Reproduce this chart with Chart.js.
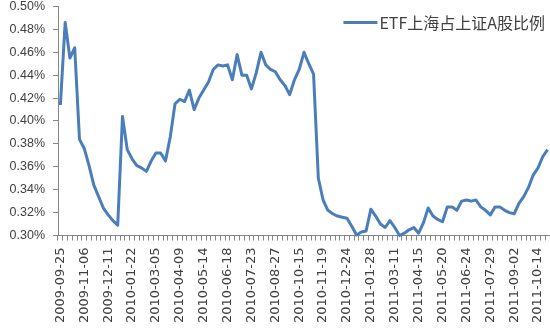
<!DOCTYPE html>
<html>
<head>
<meta charset="utf-8">
<script src="https://cdn.jsdelivr.net/npm/chart.js@4.4.1/dist/chart.umd.min.js"></script>
<style>
  body { margin: 0; background: #fff; }
  #wrap { width: 550px; height: 328px; }
</style>
</head>
<body>
<div id="wrap"><canvas id="etfChart"></canvas></div>
<script>
// weekly dates (holiday weeks missing)
const dates = [
  '2009-09-25', '2009-10-09', '2009-10-16', '2009-10-23', '2009-10-30',
  '2009-11-06', '2009-11-13', '2009-11-20', '2009-11-27', '2009-12-04',
  '2009-12-11', '2009-12-18', '2009-12-25', '2010-01-08', '2010-01-15',
  '2010-01-22', '2010-01-29', '2010-02-05', '2010-02-12', '2010-02-26',
  '2010-03-05', '2010-03-12', '2010-03-19', '2010-03-26', '2010-04-02',
  '2010-04-09', '2010-04-16', '2010-04-23', '2010-04-30', '2010-05-07',
  '2010-05-14', '2010-05-21', '2010-05-28', '2010-06-04', '2010-06-11',
  '2010-06-18', '2010-06-25', '2010-07-02', '2010-07-09', '2010-07-16',
  '2010-07-23', '2010-07-30', '2010-08-06', '2010-08-13', '2010-08-20',
  '2010-08-27', '2010-09-03', '2010-09-10', '2010-09-17', '2010-10-08',
  '2010-10-15', '2010-10-22', '2010-10-29', '2010-11-05', '2010-11-12',
  '2010-11-19', '2010-11-26', '2010-12-03', '2010-12-10', '2010-12-17',
  '2010-12-24', '2010-12-31', '2011-01-07', '2011-01-14', '2011-01-21',
  '2011-01-28', '2011-02-11', '2011-02-18', '2011-02-25', '2011-03-04',
  '2011-03-11', '2011-03-18', '2011-03-25', '2011-04-01', '2011-04-08',
  '2011-04-15', '2011-04-22', '2011-04-29', '2011-05-06', '2011-05-13',
  '2011-05-20', '2011-05-27', '2011-06-03', '2011-06-10', '2011-06-17',
  '2011-06-24', '2011-07-01', '2011-07-08', '2011-07-15', '2011-07-22',
  '2011-07-29', '2011-08-05', '2011-08-12', '2011-08-19', '2011-08-26',
  '2011-09-02', '2011-09-09', '2011-09-16', '2011-09-23', '2011-09-30',
  '2011-10-14', '2011-10-21', '2011-10-28'
];

// percent values
const etfShare = [
  0.414, 0.486, 0.455, 0.464, 0.384, 0.376, 0.361, 0.344, 0.334, 0.324,
  0.318, 0.313, 0.309, 0.404, 0.375, 0.367, 0.361, 0.359, 0.356, 0.365,
  0.372, 0.372, 0.365, 0.386, 0.415, 0.419, 0.417, 0.427, 0.410, 0.420,
  0.427, 0.434, 0.445, 0.449, 0.448, 0.449, 0.436, 0.458, 0.440, 0.440,
  0.428, 0.442, 0.460, 0.449, 0.445, 0.443, 0.436, 0.431, 0.423, 0.436,
  0.445, 0.460, 0.450, 0.441, 0.350, 0.331, 0.322, 0.319, 0.317, 0.316,
  0.315, 0.308, 0.3005, 0.303, 0.304, 0.323, 0.317, 0.310, 0.307, 0.313,
  0.307, 0.300, 0.302, 0.305, 0.307, 0.302, 0.311, 0.324, 0.317, 0.314,
  0.312, 0.325, 0.325, 0.322, 0.330, 0.331, 0.330, 0.331, 0.325, 0.322,
  0.318, 0.325, 0.325, 0.322, 0.320, 0.319, 0.328, 0.334, 0.342, 0.353,
  0.359, 0.369, 0.375
];

const seriesName = 'ETF上海占上证A股比例';
const yMin = 0.30, yMax = 0.50, yStep = 0.02;
const labelEvery = 5;

const axisGray = '#868686';
const textColor = '#404040';

// legend drawn inside the plot, top right
const insideLegend = {
  id: 'insideLegend',
  afterDraw(chart) {
    const ds = chart.data.datasets[0];
    const ctx = chart.ctx;
    const area = chart.chartArea;
    ctx.save();
    ctx.font = '16px "Noto Sans CJK SC"';
    ctx.fillStyle = textColor;
    ctx.textBaseline = 'middle';
    const w = ctx.measureText(ds.label).width;
    const tx = area.right - 5 - w;
    const ty = 23;
    ctx.fillText(ds.label, tx, ty);
    ctx.strokeStyle = ds.borderColor;
    ctx.lineWidth = 3;
    ctx.beginPath();
    ctx.moveTo(tx - 36, ty - 0.5);
    ctx.lineTo(tx - 2, ty - 0.5);
    ctx.stroke();
    ctx.restore();
  }
};

const ctx = document.getElementById('etfChart').getContext('2d');
const etfChart = new Chart(ctx, {
  type: 'line',
  data: {
    labels: dates,
    datasets: [{
      label: seriesName,
      data: etfShare,
      borderColor: '#4a7ebb',
      borderWidth: 3,
      pointRadius: 0,
      tension: 0,
      borderJoinStyle: 'round',
      fill: false,
      clip: 6
    }]
  },
  options: {
    responsive: true,
    maintainAspectRatio: false,
    animation: false,
    devicePixelRatio: 1,
    layout: { padding: { top: 6.5, right: 0, left: 0, bottom: 0 } },
    plugins: {
      legend: { display: false },
      tooltip: { enabled: false }
    },
    scales: {
      x: {
        offset: true,
        grid: { offset: true, drawOnChartArea: false, tickLength: 5, color: axisGray },
        border: { color: axisGray },
        ticks: {
          autoSkip: false,
          minRotation: 90,
          maxRotation: 90,
          padding: 7,
          color: textColor,
          font: { family: 'DejaVu Sans', size: 13 },
          callback: function(v, i) {
            return i % labelEvery === 0 ? dates[i] : '';
          }
        },
        afterFit: function(s) {
          s.height = 92.5;
          s.paddingLeft = 0;
          s.paddingRight = 0;
        }
      },
      y: {
        min: yMin,
        max: yMax,
        grid: { drawOnChartArea: false, tickLength: 5, color: axisGray },
        border: { color: axisGray },
        ticks: {
          stepSize: yStep,
          padding: 8,
          color: textColor,
          font: { family: 'Liberation Sans', size: 12.5 },
          callback: v => v.toFixed(2) + '%'
        },
        afterFit: function(s) {
          s.width = 58;
          s.paddingTop = 0;
          s.paddingBottom = 0;
        }
      }
    }
  },
  plugins: [insideLegend]
});
</script>
</body>
</html>
